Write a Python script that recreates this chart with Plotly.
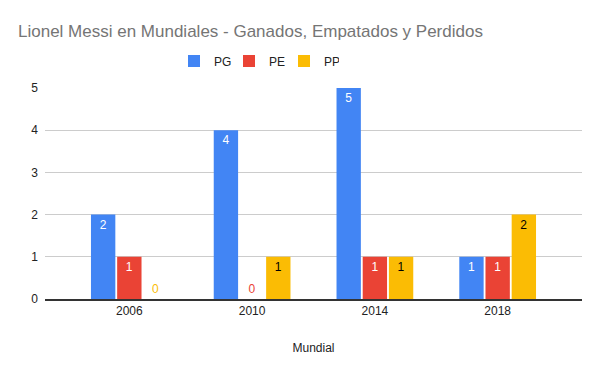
import plotly.graph_objects as go

categories = ["2006", "2010", "2014", "2018"]
pg = [2, 4, 5, 1]
pe = [1, 0, 1, 1]
pp = [0, 1, 1, 2]
series_names = ["PG", "PE", "PP"]
series_colors = ["#4285F4", "#EA4335", "#FBBC04"]
inside_text_colors = ["#ffffff", "#ffffff", "#000000"]
y_ticks = [0, 1, 2, 3, 4, 5]

FONT = "Arial, Liberation Sans, sans-serif"

fig = go.Figure()
for name, vals, col, tcol in zip(series_names, [pg, pe, pp], series_colors, inside_text_colors):
    positions = ["outside" if v == 0 else "inside" for v in vals]
    colors = [col if v == 0 else tcol for v in vals]
    fig.add_trace(go.Bar(
        name=name, x=categories, y=vals, marker=dict(color=col, line=dict(width=0)),
        text=[str(v) for v in vals], textposition=positions,
        insidetextanchor="end", textangle=0, constraintext="none",
        textfont=dict(color=colors, size=12, family=FONT),
        cliponaxis=False,
    ))

fig.update_layout(
    width=600, height=371,
    margin=dict(l=45, r=18, t=88, b=72, autoexpand=False),
    paper_bgcolor="white", plot_bgcolor="white",
    barmode="group", bargap=0.36, bargroupgap=0.07,
    font=dict(family=FONT, size=12, color="#222222"),
    title=dict(text="Lionel Messi en Mundiales - Ganados, Empatados y Perdidos",
               x=18 / 600, xref="container", xanchor="left", y=1 - 31 / 371, yref="container", yanchor="middle",
               automargin=False,
               font=dict(family=FONT, size=17, color="#757575")),
    legend=dict(orientation="h", x=174 / 600, xanchor="left", xref="container", y=1 - 61 / 371, yref="container", yanchor="middle",
                font=dict(size=12, color="#222222"), itemwidth=30, entrywidth=10, entrywidthmode="pixels",
                traceorder="normal"),
    xaxis=dict(type="category", range=[-0.687, 3.687], showgrid=False, showline=True, automargin=False,
               linecolor="#333333", linewidth=1.5, ticks="", tickfont=dict(size=12, color="#222222"),
               title=dict(text="Mundial", font=dict(size=12, color="#222222"), standoff=26)),
    yaxis=dict(range=[0, 5], tickvals=y_ticks, showgrid=True, gridcolor="#cccccc", gridwidth=1,
               zeroline=False, ticks="", ticklen=0, automargin=False, tickfont=dict(size=12, color="#222222"),
               ticklabelstandoff=6),
)

fig.write_html("out.html", config={"displayModeBar": False},
               post_script="document.body.style.margin='0';")
